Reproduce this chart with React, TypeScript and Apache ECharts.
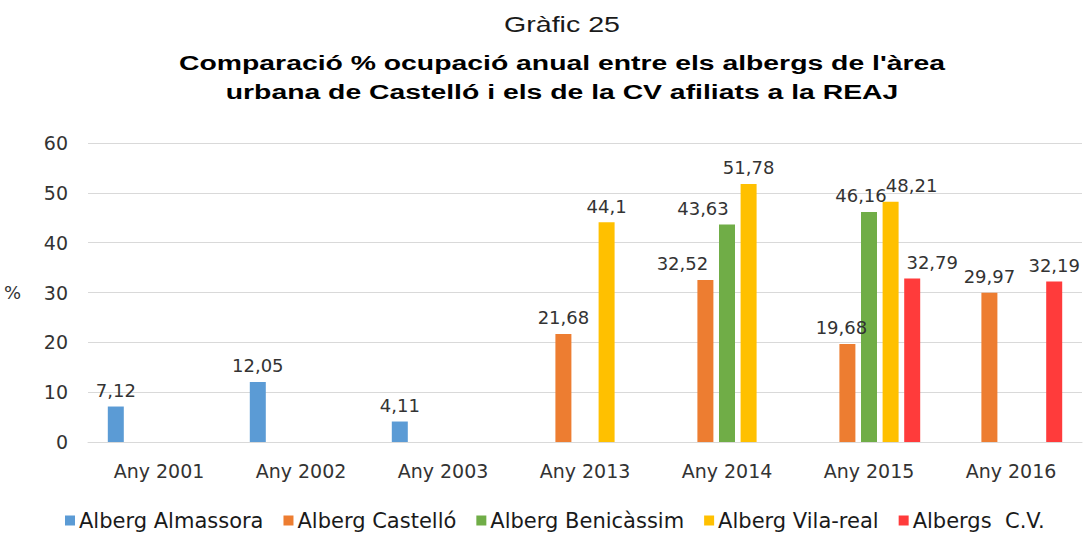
import React, { useEffect, useRef } from "react";
import * as echarts from "echarts";

const categories = ["Any 2001", "Any 2002", "Any 2003", "Any 2013", "Any 2014", "Any 2015", "Any 2016"];
const seriesNames = ["Alberg Almassora", "Alberg Castelló", "Alberg Benicàssim", "Alberg Vila-real", "Albergs  C.V."];
const almassora = [7.12, 12.05, 4.11, null, null, null, null];
const castello = [null, null, null, 21.68, 32.52, 19.68, 29.97];
const benicassim = [null, null, null, null, 43.63, 46.16, null];
const vilareal = [null, null, null, 44.1, 51.78, 48.21, null];
const albergsCV = [null, null, null, null, null, 32.79, 32.19];
const yTicks = [0, 10, 20, 30, 40, 50, 60];
const colors = ["#5B9BD5", "#ED7D31", "#70AD47", "#FFC000", "#FF3B3B"];

const titleLine1 = "Gràfic 25";
const titleLine2 = "Comparació % ocupació anual entre els albergs de l'àrea";
const titleLine3 = "urbana de Castelló i els de la CV afiliats a la REAJ";

// horizontal nudges of individual data labels (series index -> category index -> px), as in the reference
const labelNudges: Record<number, Record<number, number>> = {
  1: { 4: -23, 5: -6 },
  2: { 4: -24, 5: -8 },
  3: { 5: 21 },
  4: { 5: 20 },
};

export default function App() {
  const ref = useRef<HTMLDivElement>(null);
  useEffect(() => {
    if (!ref.current) return;
    const chart = echarts.init(ref.current, undefined, { renderer: "svg" });
    const datasets = [almassora, castello, benicassim, vilareal, albergsCV];
    const labelFont = "'DejaVu Sans', 'Open Sans', sans-serif";
    const textColor = "#333333";
    chart.setOption({
      animation: false,
      backgroundColor: "#ffffff",
      graphic: [
        { type: "text", x: 562, y: 24, scaleX: 1.3, style: { text: titleLine1, textAlign: "center", textVerticalAlign: "middle", font: "22px 'Liberation Sans', Arial, sans-serif", fill: "#1a1a1a" } },
        { type: "text", x: 562, y: 62, scaleX: 1.35, style: { text: titleLine2, textAlign: "center", textVerticalAlign: "middle", font: "bold 21px 'Liberation Sans', Arial, sans-serif", fill: "#000000" } },
        { type: "text", x: 562, y: 91, scaleX: 1.35, style: { text: titleLine3, textAlign: "center", textVerticalAlign: "middle", font: "bold 21px 'Liberation Sans', Arial, sans-serif", fill: "#000000" } },
      ],
      legend: {
        data: seriesNames,
        top: 505,
        left: 60,
        icon: "rect",
        itemWidth: 10,
        itemHeight: 10,
        itemGap: 20,
        textStyle: { fontFamily: labelFont, fontSize: 21, color: "#1a1a1a", padding: [0, 0, 0, -1] },
      },
      grid: { left: 88, right: 4, top: 143, bottom: 95, containLabel: false },
      xAxis: {
        type: "category",
        data: categories,
        axisLine: { show: true, lineStyle: { color: "#d9d9d9" } },
        axisTick: { show: false },
        axisLabel: { fontFamily: labelFont, fontSize: 19, color: textColor, margin: 19 },
      },
      yAxis: {
        type: "value",
        min: yTicks[0],
        max: yTicks[yTicks.length - 1],
        interval: 10,
        name: "%",
        nameLocation: "middle",
        nameRotate: 0,
        nameGap: 67,
        nameTextStyle: { fontFamily: labelFont, fontSize: 18, color: textColor },
        axisLine: { show: false },
        axisTick: { show: false },
        splitLine: { lineStyle: { color: "#d9d9d9", width: 1 } },
        axisLabel: { fontFamily: labelFont, fontSize: 19, color: textColor, margin: 20 },
      },
      series: datasets.map((d, i) => ({
        name: seriesNames[i],
        type: "bar",
        data: d.map((v, j) => {
          const dx = labelNudges[i] && labelNudges[i][j];
          return dx ? { value: v, label: { offset: [dx, 0] } } : v;
        }),
        barWidth: 16,
        barGap: "35%",
        itemStyle: { color: colors[i] },
        label: {
          show: true,
          position: "top",
          distance: 7,
          fontFamily: labelFont,
          fontSize: 18,
          color: textColor,
          formatter: (p: any) => (p.value == null ? "" : String(p.value).replace(".", ",")),
        },
      })),
    });
    return () => chart.dispose();
  }, []);
  return <div ref={ref} style={{ position: "absolute", left: 0, top: 0, width: 1086, height: 537 }} />;
}
